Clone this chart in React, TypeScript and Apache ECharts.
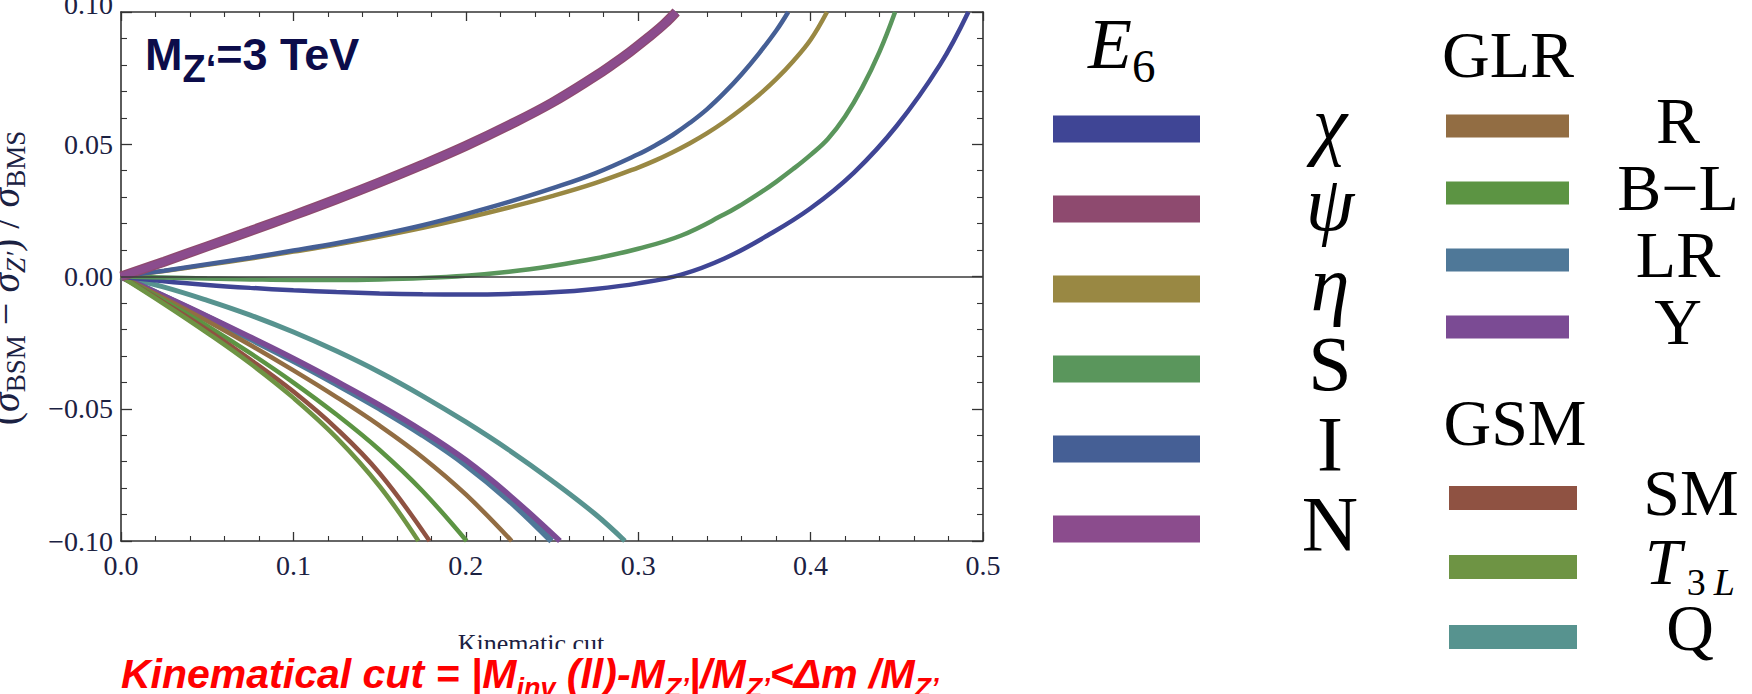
import React, { useEffect, useRef } from "react";
import * as echarts from "echarts";

const W = 1752;
const H = 694;

// ---- curve data: [kinematic cut, (σBSM − σZ′)/σBMS] ----
// E6 models
const chiPts = [[0, 0], [0.025, -0.0018], [0.05, -0.0032], [0.075, -0.0043], [0.1, -0.0052], [0.125, -0.0059], [0.15, -0.0064], [0.175, -0.0067], [0.2, -0.0068], [0.225, -0.0066], [0.25, -0.006], [0.275, -0.0047], [0.3, -0.0026], [0.325, 0.0007], [0.35, 0.0068], [0.375, 0.0155], [0.4, 0.0258], [0.425, 0.0392], [0.45, 0.057], [0.475, 0.08], [0.4915, 0.1]];
const psiPts = [[0, 0], [0.025, 0.0056], [0.05, 0.0114], [0.075, 0.0172], [0.1, 0.0231], [0.125, 0.0292], [0.15, 0.0356], [0.175, 0.0423], [0.2, 0.0494], [0.225, 0.0572], [0.25, 0.0657], [0.275, 0.0757], [0.285, 0.0801], [0.295, 0.0848], [0.305, 0.0899], [0.315, 0.0954], [0.322, 0.1]];
const etaPts = [[0, 0], [0.025, 0.0021], [0.05, 0.0044], [0.075, 0.0068], [0.1, 0.0094], [0.125, 0.0121], [0.15, 0.0151], [0.175, 0.0184], [0.2, 0.0221], [0.225, 0.0261], [0.25, 0.0304], [0.275, 0.0353], [0.3, 0.0412], [0.31, 0.0439], [0.32, 0.047], [0.33, 0.0504], [0.34, 0.0542], [0.35, 0.0585], [0.36, 0.0633], [0.37, 0.0686], [0.38, 0.0746], [0.39, 0.0815], [0.4, 0.0895], [0.4095, 0.1]];
const sPts = [[0, 0], [0.025, -0.0004], [0.05, -0.0008], [0.075, -0.0011], [0.1, -0.0013], [0.125, -0.0013], [0.15, -0.0011], [0.175, -0.0006], [0.2, 0.0003], [0.225, 0.0018], [0.25, 0.004], [0.275, 0.0068], [0.3, 0.0105], [0.325, 0.0155], [0.35, 0.0235], [0.36, 0.0272], [0.37, 0.0313], [0.38, 0.0358], [0.39, 0.0407], [0.4, 0.046], [0.41, 0.052], [0.42, 0.0605], [0.43, 0.0715], [0.44, 0.085], [0.449, 0.1]];
const iPts = [[0, 0], [0.025, 0.0022], [0.05, 0.0046], [0.075, 0.0071], [0.1, 0.0098], [0.125, 0.0126], [0.15, 0.0158], [0.175, 0.0194], [0.2, 0.0236], [0.225, 0.0282], [0.25, 0.0333], [0.275, 0.039], [0.3, 0.0462], [0.31, 0.0496], [0.32, 0.0535], [0.33, 0.0581], [0.34, 0.0633], [0.35, 0.0695], [0.36, 0.0765], [0.37, 0.0843], [0.38, 0.0929], [0.387, 0.1]];
const nPts = [[0, 0], [0.025, 0.0056], [0.05, 0.0114], [0.075, 0.0172], [0.1, 0.0231], [0.125, 0.0292], [0.15, 0.0356], [0.175, 0.0423], [0.2, 0.0494], [0.225, 0.0572], [0.25, 0.0657], [0.275, 0.0757], [0.285, 0.0801], [0.295, 0.0848], [0.305, 0.0899], [0.315, 0.0954], [0.322, 0.1]];
// GLR models
const rPts = [[0, 0], [0.025, -0.0082], [0.05, -0.0168], [0.075, -0.0259], [0.1, -0.0355], [0.125, -0.0456], [0.15, -0.0564], [0.175, -0.0684], [0.2, -0.0824], [0.2266, -0.1]];
const blPts = [[0, 0], [0.025, -0.0091], [0.05, -0.0187], [0.075, -0.029], [0.1, -0.0401], [0.125, -0.0522], [0.15, -0.0656], [0.175, -0.0812], [0.2005, -0.1]];
const lrPts = [[0, 0], [0.025, -0.0076], [0.05, -0.0154], [0.075, -0.0235], [0.1, -0.0318], [0.125, -0.0406], [0.15, -0.0498], [0.175, -0.0598], [0.2, -0.0711], [0.225, -0.0845], [0.2498, -0.1]];
const yPts = [[0, 0], [0.025, -0.0074], [0.05, -0.015], [0.075, -0.0229], [0.1, -0.031], [0.125, -0.0396], [0.15, -0.0486], [0.175, -0.0584], [0.2, -0.0694], [0.225, -0.0825], [0.2546, -0.1]];
// GSM models
const smPts = [[0, 0], [0.025, -0.0099], [0.05, -0.0202], [0.075, -0.0314], [0.1, -0.0435], [0.125, -0.0575], [0.15, -0.0744], [0.179, -0.1]];
const t3lPts = [[0, 0], [0.025, -0.0104], [0.05, -0.0213], [0.075, -0.0329], [0.1, -0.0459], [0.125, -0.0609], [0.15, -0.0793], [0.1725, -0.1]];
const qPts = [[0, 0], [0.025, -0.004], [0.05, -0.009], [0.075, -0.0146], [0.1, -0.021], [0.125, -0.0282], [0.15, -0.0362], [0.175, -0.0452], [0.2, -0.055], [0.225, -0.0656], [0.25, -0.0772], [0.275, -0.0898], [0.2923, -0.1]];

// ---- legend groups ----
const e6Labels = ["χ", "ψ", "η", "S", "I", "N"];
const e6Colors = ["#3f4595", "#8e4a6f", "#998843", "#5a965c", "#455f95", "#8b4c8d"];
const glrLabels = ["R", "B−L", "LR", "Y"];
const glrColors = ["#926d43", "#5c9443", "#4f7898", "#7b4b94"];
const gsmLabels = ["SM", "T3L", "Q"];
const gsmColors = ["#8f5242", "#6e9444", "#57938f"];

// ---- axes ----
const xMin = 0;
const xMax = 0.5;
const xStep = 0.1;
const yMin = -0.1;
const yMax = 0.1;
const yStep = 0.05;

const SERIF = "Liberation Serif";
const SANS = "Liberation Sans";
const INK = "#1b2142";

type Piece = {
  text: string;
  size: number;
  family: string;
  base: number;
  color: string;
  italic?: boolean;
  bold?: boolean;
  gap?: number;
  lh?: number;
};

function buildOption() {
  const ctx = document.createElement("canvas").getContext("2d") as CanvasRenderingContext2D;
  const fontOf = (p: { size: number; family: string; italic?: boolean; bold?: boolean }) =>
    `${p.italic ? "italic" : "normal"} ${p.bold ? "bold" : "normal"} ${p.size}px "${p.family}"`;
  const widthOf = (text: string, font: string) => {
    ctx.font = font;
    return ctx.measureText(text).width;
  };
  const mid = (family: string) => (family === SERIF ? 0.3375 : 0.3465);

  const textEl = (p: Piece, x: number, align: string) => ({
    type: "text",
    x,
    y: p.base - mid(p.family) * p.size,
    silent: true,
    style: {
      text: p.text,
      fill: p.color,
      fontSize: p.size,
      fontFamily: p.family,
      fontStyle: p.italic ? "italic" : "normal",
      fontWeight: p.bold ? "bold" : "normal",
      lineHeight: p.lh || p.size,
      align,
      verticalAlign: "middle",
      textAlign: align,
      textVerticalAlign: "middle",
    },
  });

  // a row of text pieces laid out left to right
  const run = (x0: number, pieces: Piece[]) => {
    let x = x0;
    return pieces.map((p) => {
      x += p.gap || 0;
      const el = textEl(p, x, "left");
      x += widthOf(p.text, fontOf(p));
      return el;
    });
  };
  const runWidth = (pieces: Piece[]) =>
    pieces.reduce((s, p) => s + (p.gap || 0) + widthOf(p.text, fontOf(p)), 0);

  const centered = (text: string, cx: number, base: number, size: number, italic = false) =>
    textEl({ text, size, family: SERIF, base, color: "#000", italic }, cx, "center");

  const swatch = (x: number, cy: number, w: number, h: number, color: string) => ({
    type: "rect",
    silent: true,
    shape: { x, y: cy - h / 2, width: w, height: h },
    style: { fill: color },
  });

  const graphics: any[] = [];

  // plot annotation
  const navy = "#0c0c4a";
  graphics.push(
    ...run(145, [
      { text: "M", size: 45, family: SANS, bold: true, base: 70, color: navy },
      { text: "Z‘", size: 38, family: SANS, bold: true, base: 82, color: navy },
      { text: "=3 TeV", size: 45, family: SANS, bold: true, base: 70, color: navy },
    ])
  );

  // top y tick label, sitting at the upper border
  graphics.push(textEl({ text: "0.10", size: 28, family: SERIF, base: 14, color: INK }, 113, "right"));

  // y axis title, rotated, running along the left edge
  const yTitle: Piece[] = [
    { text: "(", size: 40, family: SERIF, base: 0, color: INK },
    { text: "σ", size: 40, family: SERIF, base: 0, color: INK, italic: true },
    { text: "BSM", size: 27, family: SERIF, base: 6, color: INK },
    { text: " − ", size: 40, family: SERIF, base: 0, color: INK },
    { text: "σ", size: 40, family: SERIF, base: 0, color: INK, italic: true },
    { text: "Z′", size: 27, family: SERIF, base: 6, color: INK, italic: true },
    { text: ") / ", size: 40, family: SERIF, base: 0, color: INK },
    { text: "σ", size: 40, family: SERIF, base: 0, color: INK, italic: true },
    { text: "BMS", size: 27, family: SERIF, base: 6, color: INK },
  ];
  const yTitleW = runWidth(yTitle);
  graphics.push({
    type: "group",
    x: 19,
    y: 278,
    rotation: Math.PI / 2,
    children: run(-yTitleW / 2, yTitle),
  });

  // x axis title, its lower edge trimmed
  graphics.push(textEl({ text: "Kinematic cut", size: 26, family: SERIF, base: 652, color: INK, lh: 22 }, 531, "center"));
  graphics.push({
    type: "rect",
    silent: true,
    shape: { x: 420, y: 649, width: 230, height: 6 },
    style: { fill: "#fff" },
  });

  // definition of the cut
  const red = "#ff0000";
  const redMain = (text: string): Piece => ({ text, size: 41, family: SANS, bold: true, italic: true, base: 688, color: red, lh: 34 });
  const redSub = (text: string): Piece => ({ text, size: 27, family: SANS, bold: true, italic: true, base: 697, color: red, lh: 22 });
  graphics.push(
    ...run(121, [
      redMain("Kinematical cut = |M"),
      redSub("inv"),
      redMain(" (ll)-M"),
      redSub("Z’"),
      redMain("|/M"),
      redSub("Z’"),
      redMain("<Δm /M"),
      redSub("Z’"),
    ])
  );

  // E6 legend column
  graphics.push(
    ...run(1088, [
      { text: "E", size: 72, family: SERIF, italic: true, base: 68, color: "#000" },
      { text: "6", size: 47, family: SERIF, base: 82, color: "#000" },
    ])
  );
  e6Labels.forEach((lab, i) => {
    const cy = 129 + i * 80;
    graphics.push(swatch(1053, cy, 147, 27, e6Colors[i]));
    graphics.push(centered(lab, 1330, 150 + i * 80, 78, i < 3));
  });

  // GLR legend column
  graphics.push(centered("GLR", 1508, 77, 66));
  glrLabels.forEach((lab, i) => {
    graphics.push(swatch(1446, 126 + i * 67, 123, 23, glrColors[i]));
    graphics.push(centered(lab, 1678, 143 + i * 67, 66));
  });

  // GSM legend column
  graphics.push(centered("GSM", 1515, 445, 66));
  const gsmCy = [498, 567, 637];
  gsmLabels.forEach((lab, i) => {
    graphics.push(swatch(1449, gsmCy[i], 128, 24, gsmColors[i]));
  });
  graphics.push(centered(gsmLabels[0], 1691, 515, 66));
  graphics.push(
    ...run(1645, [
      { text: "T", size: 66, family: SERIF, italic: true, base: 584, color: "#000", lh: 50 },
      { text: "3", size: 38, family: SERIF, base: 595, color: "#000", gap: 5, lh: 28 },
      { text: "L", size: 38, family: SERIF, italic: true, base: 595, color: "#000", gap: 8, lh: 28 },
    ])
  );
  graphics.push(centered(gsmLabels[2], 1690, 650, 66));

  // curves, drawn back to front
  const curves = [
    { name: "Q", pts: qPts, color: gsmColors[2], width: 5 },
    { name: "LR", pts: lrPts, color: glrColors[2], width: 6.5 },
    { name: "Y", pts: yPts, color: glrColors[3], width: 5.5 },
    { name: "R", pts: rPts, color: glrColors[0], width: 4.5 },
    { name: "B−L", pts: blPts, color: glrColors[1], width: 4.5 },
    { name: "SM", pts: smPts, color: gsmColors[0], width: 4.5 },
    { name: "T3L", pts: t3lPts, color: gsmColors[1], width: 4.5 },
    { name: "χ", pts: chiPts, color: e6Colors[0], width: 4.5 },
    { name: "S", pts: sPts, color: e6Colors[3], width: 4.5 },
    { name: "η", pts: etaPts, color: e6Colors[2], width: 4.5 },
    { name: "I", pts: iPts, color: e6Colors[4], width: 4.5 },
    { name: "ψ", pts: psiPts, color: e6Colors[1], width: 10 },
    { name: "N", pts: nPts, color: e6Colors[5], width: 7.5 },
  ];

  const series: any[] = curves.map((c, idx) => ({
    type: "line",
    name: c.name,
    data: c.pts,
    xAxisIndex: 0,
    yAxisIndex: 0,
    showSymbol: false,
    symbol: "none",
    smooth: 0.4,
    clip: true,
    lineStyle: { color: c.color, width: c.width },
    itemStyle: { color: c.color },
    markLine:
      idx === 0
        ? {
            silent: true,
            symbol: ["none", "none"],
            label: { show: false },
            lineStyle: { color: "#3a3a3a", width: 1.6, type: "solid" },
            data: [{ yAxis: 0 }],
          }
        : undefined,
  }));

  const frame = { color: "#333", width: 1.6 };
  const xBase = {
    type: "value",
    min: xMin,
    max: xMax,
    interval: xStep,
    axisLine: { show: true, onZero: false, lineStyle: frame },
    axisTick: { show: true, inside: true, length: 9, lineStyle: { color: "#333", width: 1.3 } },
    minorTick: { show: true, splitNumber: 5, length: 5, lineStyle: { color: "#333", width: 1.1 } },
    splitLine: { show: false },
    minorSplitLine: { show: false },
  };
  const yBase = {
    type: "value",
    min: yMin,
    max: yMax,
    interval: yStep,
    axisLine: { show: true, onZero: false, lineStyle: frame },
    axisTick: { show: true, inside: true, length: 11, lineStyle: { color: "#333", width: 1.3 } },
    minorTick: { show: true, splitNumber: 5, length: 6, lineStyle: { color: "#333", width: 1.1 } },
    splitLine: { show: false },
    minorSplitLine: { show: false },
  };

  return {
    animation: false,
    backgroundColor: "#fff",
    grid: { left: 121, top: 12, width: 862, height: 529, containLabel: false },
    xAxis: [
      {
        ...xBase,
        position: "bottom",
        axisLabel: {
          formatter: (v: number) => v.toFixed(1),
          fontFamily: SERIF,
          fontSize: 28,
          color: INK,
          margin: 10,
        },
      },
      { ...xBase, position: "top", axisLabel: { show: false } },
    ],
    yAxis: [
      {
        ...yBase,
        position: "left",
        axisLabel: {
          formatter: (v: number) =>
            Math.abs(v - yMax) < 1e-9 ? "" : (v < -1e-9 ? "−" : "") + Math.abs(v).toFixed(2),
          fontFamily: SERIF,
          fontSize: 28,
          color: INK,
          margin: 8,
        },
      },
      { ...yBase, position: "right", axisLabel: { show: false } },
    ],
    series,
    graphic: { elements: graphics },
  };
}

export default function App() {
  const ref = useRef<HTMLDivElement>(null);
  useEffect(() => {
    if (!ref.current) return;
    const chart = echarts.init(ref.current, null, { renderer: "svg" });
    chart.setOption(buildOption() as any);
    return () => chart.dispose();
  }, []);
  return (
    <div
      ref={ref}
      style={{ position: "absolute", left: 0, top: 0, width: W, height: H, background: "#fff" }}
    />
  );
}
